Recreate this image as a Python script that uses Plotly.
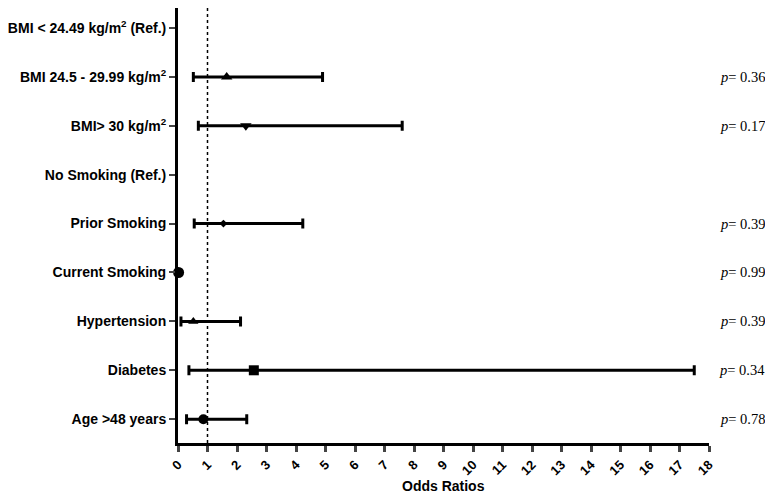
import plotly.graph_objects as go

categories = [
    "BMI < 24.49 kg/m<sup>2</sup> (Ref.)",
    "BMI 24.5 - 29.99 kg/m<sup>2</sup>",
    "BMI> 30 kg/m<sup>2</sup>",
    "No Smoking (Ref.)",
    "Prior Smoking",
    "Current Smoking",
    "Hypertension",
    "Diabetes",
    "Age >48 years",
]
odds_ratio = [None, 1.65, 2.3, None, 1.54, 0.02, 0.52, 2.57, 0.86]
ci_low = [None, 0.52, 0.69, None, 0.55, None, 0.10, 0.37, 0.29]
ci_high = [None, 4.9, 7.6, None, 4.23, None, 2.12, 17.5, 2.33]
p_values = [None, "0.36", "0.17", None, "0.39", "0.99", "0.39", "0.34", "0.78"]
marker_symbols = [None, "triangle-up", "triangle-down", None, "diamond", "circle",
                  "triangle-up", "square", "circle"]
marker_sizes = [0, 10, 10, 0, 6, 11, 9, 10, 10]

fig = go.Figure()
for i, cat in enumerate(categories):
    if odds_ratio[i] is None:
        continue
    err = None
    if ci_low[i] is not None:
        err = dict(type="data", symmetric=False,
                   array=[ci_high[i] - odds_ratio[i]],
                   arrayminus=[odds_ratio[i] - ci_low[i]],
                   color="black", thickness=3, width=5)
    fig.add_trace(go.Scatter(
        x=[odds_ratio[i]], y=[cat], mode="markers",
        marker=dict(symbol=marker_symbols[i], size=marker_sizes[i], color="black"),
        error_x=err, cliponaxis=False, showlegend=False))

fig.add_shape(type="line", x0=1, x1=1, xref="x", y0=0, y1=1, yref="paper",
              line=dict(color="black", width=1.5, dash="dot"), layer="below")

for i, p in enumerate(p_values):
    if p is None:
        continue
    fig.add_annotation(x=1.0, xref="paper", xshift=58, y=categories[i], yref="y",
                       text="<i>p</i>= " + p, showarrow=False, xanchor="right",
                       font=dict(family="Liberation Serif, Times New Roman, serif",
                                 size=14.5, color="black"))

# x axis title
fig.add_annotation(x=0.5, xref="paper", y=0, yref="paper", yshift=-43,
                   text="<b>Odds Ratios</b>", showarrow=False, yanchor="middle",
                   font=dict(size=14, color="black"))

fig.update_layout(
    width=765, height=486,
    margin=dict(l=170, r=64, t=0, b=51, autoexpand=False),
    plot_bgcolor="white", paper_bgcolor="white",
    font=dict(family="Liberation Sans, Arial, sans-serif", color="black"),
    xaxis=dict(range=[0, 18], tickmode="array", tickvals=list(range(19)),
               ticktext=["<b>%d</b>" % v for v in range(19)],
               tickangle=-45, ticks="outside", ticklen=6, tickwidth=3,
               showline=True, linewidth=3, linecolor="black",
               showgrid=False, zeroline=False,
               tickfont=dict(size=13)),
    yaxis=dict(type="category", categoryorder="array", categoryarray=categories,
               range=[8.487, -0.409], tickmode="array", tickvals=categories,
               ticktext=["<b>%s</b>" % c for c in categories],
               ticks="outside", ticklen=6, tickwidth=2,
               showline=True, linewidth=3, linecolor="black",
               showgrid=False, zeroline=False, tickfont=dict(size=14)),
)

fig.write_html("out.html")
